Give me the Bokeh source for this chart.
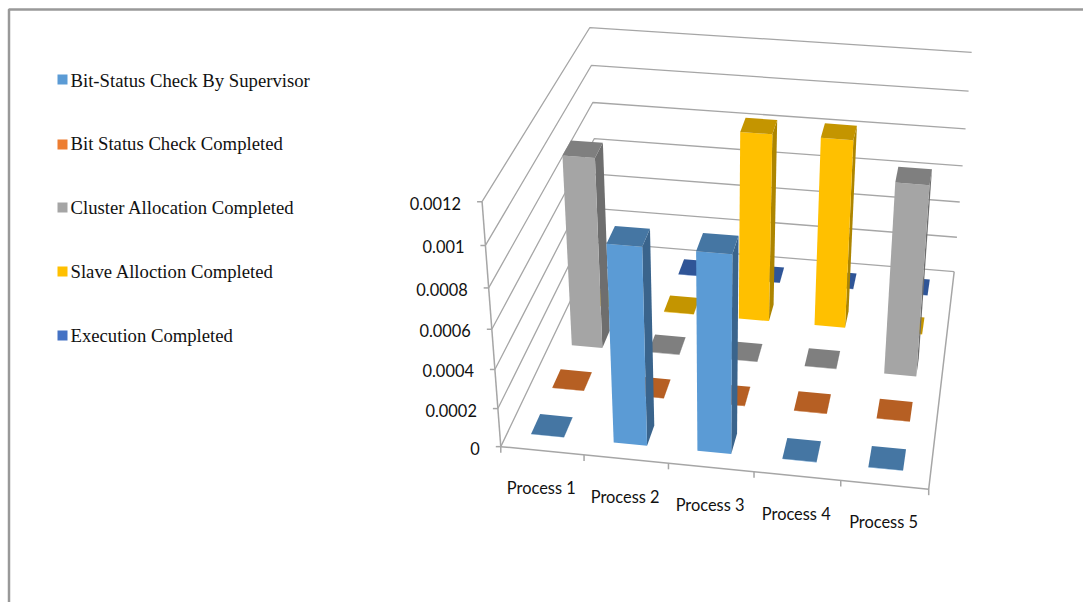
import numpy as np
from bokeh.core.properties import value
from bokeh.embed import file_html
from bokeh.models import Range1d
from bokeh.plotting import figure
from bokeh.resources import INLINE

processes = ["Process 1", "Process 2", "Process 3", "Process 4", "Process 5"]
series_names = ["Bit-Status Check By Supervisor", "Bit Status Check Completed",
                "Cluster Allocation Completed", "Slave Alloction Completed", "Execution Completed"]
supervisor_check = [0.000002, 0.00099, 0.00099, 0.000002, 0.000002]
status_completed = [0.000002, 0.000002, 0.000002, 0.000002, 0.000002]
cluster_completed = [0.00100, 0.000002, 0.000002, 0.000002, 0.00099]
slave_completed = [0.000002, 0.000002, 0.00100, 0.00100, 0.000002]
execution_completed = [0.000002, 0.000002, 0.000002, 0.000002, 0.000002]
series_values = [supervisor_check, status_completed, cluster_completed, slave_completed, execution_completed]
z_ticks = [0, 0.0002, 0.0004, 0.0006, 0.0008, 0.001, 0.0012]
z_labels = ["0", "0.0002", "0.0004", "0.0006", "0.0008", "0.001", "0.0012"]

legend_colors = ["#5B9BD5", "#ED7D31", "#A5A5A5", "#FFC000", "#4472C4"]
front_colors = ["#5B9BD5", "#C55A11", "#A5A5A5", "#FFC000", "#4472C4"]
top_colors = ["#4576A3", "#B65F23", "#7F7F7F", "#C49500", "#2F5597"]
side_colors = ["#3A648C", "#9C4F1C", "#6E6E6E", "#AD8500", "#264680"]
GRID = "#A6A6A6"
BAR_WIDTH = 0.40
BAR_DEPTH = 0.42
BAR_SHIFT_X = -0.015
BAR_SHIFT_D = 0.01

# Perspective camera fitted to the box corners: (category, depth, value) -> page pixels.
corners_3d = [(0, 0, 0), (5, 0, 0), (5, 5, 0), (0, 5, 0), (0, 0, 0.0012), (5, 5, 0.0012), (0, 5, 0.0012)]
corners_px = [(501, 445), (928, 490), (954, 269), (597, 244), (481, 201), (971, 53), (590, 26)]


def fit_camera(world, image):
    rows = []
    for (x, y, z), (u, v) in zip(world, image):
        z = z * 1000
        rows.append([x, y, z, 1, 0, 0, 0, 0, -u * x, -u * y, -u * z, -u])
        rows.append([0, 0, 0, 0, x, y, z, 1, -v * x, -v * y, -v * z, -v])
    return np.linalg.svd(np.array(rows, dtype=float))[2][-1].reshape(3, 4)


CAMERA = fit_camera(corners_3d, corners_px)


def project(x, y, z):
    h = CAMERA @ np.array([x, y, z * 1000, 1.0])
    return h[0] / h[2], h[1] / h[2]


def face(points):
    pts = [project(*pt) for pt in points]
    return [a for a, _ in pts], [b for _, b in pts]


p = figure(width=1083, height=602, output_backend="svg", toolbar_location=None,
           x_range=Range1d(0, 1083), y_range=Range1d(602, 0),
           x_axis_type=None, y_axis_type=None, min_border=0,
           background_fill_color="white", border_fill_color="white")
p.grid.visible = False
p.outline_line_color = None

# Chart area border, visible along the top and left only.
p.line([8.5, 8.5, 1083], [602, 9, 9], line_color="#999999", line_width=2.5)

# Gridlines on the back and left walls.
for tick in z_ticks:
    a, b, c = project(0, 0, tick), project(0, 5, tick), project(5, 5, tick)
    p.line([a[0], b[0], c[0]], [a[1], b[1], c[1]], line_color=GRID, line_width=1.3)

# Floor outline and the two axes with their tick marks.
xs, ys = face([(0, 0, 0), (5, 0, 0), (5, 5, 0)])
p.line(xs, ys, line_color=GRID, line_width=1.5)
xs, ys = face([(0, 0, 0), (0, 0, 0.0012)])
p.line(xs, ys, line_color=GRID, line_width=1.5)
for tick in z_ticks:
    u, v = project(0, 0, tick)
    p.line([u - 5, u], [v, v], line_color=GRID, line_width=1.5)
for i in range(6):
    u, v = project(i, 0, 0)
    p.line([u, u], [v, v + 6], line_color=GRID, line_width=1.5)

# Bars, painted from the back row forward.
half_w, half_d = BAR_WIDTH / 2, BAR_DEPTH / 2
for s in reversed(range(5)):
    row = s + 0.5 + BAR_SHIFT_D
    for i, val in enumerate(series_values[s]):
        cx = i + 0.5 + BAR_SHIFT_X
        x0, x1, y0, y1 = cx - half_w, cx + half_w, row - half_d, row + half_d
        xs, ys = face([(x1, y0, 0), (x1, y1, 0), (x1, y1, val), (x1, y0, val)])
        p.patch(xs, ys, fill_color=side_colors[s], line_color=None)
        xs, ys = face([(x0, y0, 0), (x1, y0, 0), (x1, y0, val), (x0, y0, val)])
        p.patch(xs, ys, fill_color=front_colors[s], line_color=None)
        xs, ys = face([(x0, y0, val), (x1, y0, val), (x1, y1, val), (x0, y1, val)])
        p.patch(xs, ys, fill_color=top_colors[s], line_color=None)

# Value axis labels, right aligned next to the ticks.
label_pts = [project(0, 0, t) for t in z_ticks]
p.text([u - 21 for u, _ in label_pts], [v + 1.5 for _, v in label_pts], text=z_labels,
       text_font=value("Lato"), text_font_size="16.4px", text_color="#111111",
       text_align="right", text_baseline="middle")

# Category labels under the front edge.
cat_pts = [project(i + 0.5, 0, 0) for i in range(5)]
p.text([u - 1 for u, _ in cat_pts], [v + 37 for _, v in cat_pts], text=processes,
       text_font=value("Lato"), text_font_size="16.4px", text_color="#111111",
       text_align="center", text_baseline="middle")

# Legend column on the left.
legend_y = [80, 143, 207, 271, 335]
swatch_y = [79, 144, 207, 271, 335]
p.rect([62] * 5, swatch_y, width=10, height=10, fill_color=legend_colors, line_color=None)
p.text([70] * 5, legend_y, text=series_names, text_font=value("Liberation Serif"),
       text_font_size="18.7px", text_color="#111111", text_align="left", text_baseline="middle")

open("out.html", "w").write(file_html(p, INLINE))
